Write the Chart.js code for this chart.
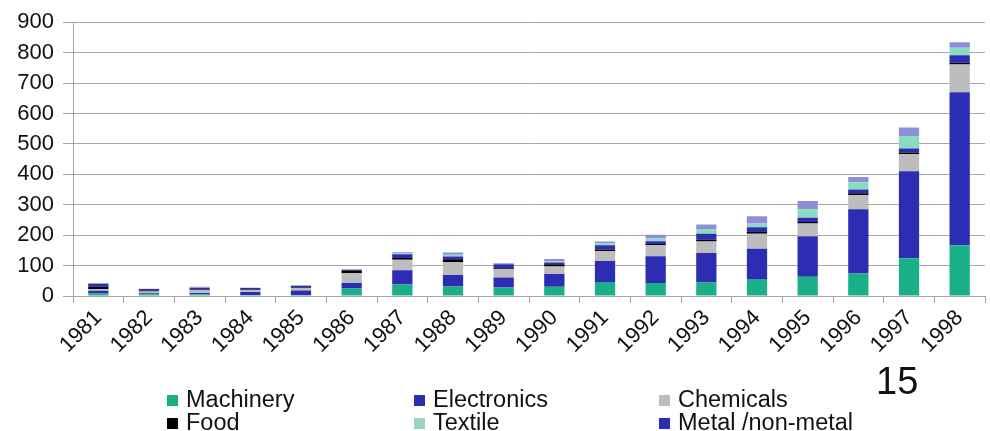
<!DOCTYPE html>
<html>
<head>
<meta charset="utf-8">
<script src="https://cdn.jsdelivr.net/npm/chart.js@4.4.1/dist/chart.umd.min.js"></script>
<style>
  html, body { margin: 0; padding: 0; background: #fff; }
  #wrap { width: 990px; height: 431px; position: relative; }
</style>
</head>
<body>
<div id="wrap"><canvas id="exportChart"></canvas></div>
<script>
const years = ["1981","1982","1983","1984","1985","1986","1987","1988","1989",
               "1990","1991","1992","1993","1994","1995","1996","1997","1998"];

const machinery   = [8, 6, 6, 3, 3, 25, 38, 31, 28, 30, 46, 43, 44, 56, 63, 74, 124, 167];
const electronics = [9, 3, 4, 10, 15, 18, 47, 38, 33, 42, 69, 88, 97, 99, 133, 211, 286, 503];
const chemicals   = [6, 6, 9, 7, 8, 32, 34, 43, 27, 25, 33, 36, 38, 50, 42, 47, 56, 91];
const food        = [7, 3, 2, 1, 2, 9, 6, 9, 3, 7, 5, 4, 6, 5, 5, 6, 6, 6];
const metal       = [10, 5, 6, 5, 5, 2, 12, 9, 13, 6, 14, 9, 20, 16, 14, 12, 13, 24];
const textile     = [1, 0, 1, 1, 1, 0, 3, 6, 1, 3, 6, 9, 15, 12, 28, 24, 41, 25];
const other       = [2, 1, 2, 1, 2, 2, 4, 7, 3, 9, 6, 12, 15, 24, 27, 17, 28, 18];

const yTicks = [0, 100, 200, 300, 400, 500, 600, 700, 800, 900];
const slideNumber = "15";

const series = [
  { label: "Machinery",         data: machinery,   color: "#1aaf88" },
  { label: "Electronics",       data: electronics, color: "#2d2db3" },
  { label: "Chemicals",         data: chemicals,   color: "#bdbdbd" },
  { label: "Food",              data: food,        color: "#000000" },
  { label: "Metal /non-metal",  data: metal,       color: "#2d2db3" },
  { label: "Textile",           data: textile,     color: "#88dcc0" },
  { label: "Other",             data: other,       color: "#8f8fd8" }
];

// legend is laid out as in the slide: 2 rows x 3 columns
const legendRows = [
  ["Machinery", "Electronics", "Chemicals"],
  ["Food", "Textile", "Metal /non-metal"]
];

const font = "'Liberation Sans', Arial, sans-serif";
const gridColor = "#a6a6a6";

const slideLegend = {
  id: "slideLegend",
  afterDraw(chart) {
    const ctx = chart.ctx;
    const colX = [167, 414, 659];
    const rowY = [400, 423];
    ctx.save();
    ctx.font = "23.5px " + font;
    ctx.textBaseline = "middle";
    ctx.textAlign = "left";
    legendRows.forEach((row, r) => {
      row.forEach((name, c) => {
        const s = series.find(d => d.label === name);
        ctx.fillStyle = name === "Textile" ? "#9ed3c0" : s.color;
        ctx.fillRect(colX[c], rowY[r] - 5, 11, 11);
        ctx.fillStyle = "#111";
        ctx.fillText(name, colX[c] + 19, rowY[r] + 1);
      });
    });
    ctx.font = "38px " + font;
    ctx.fillStyle = "#111";
    ctx.fillText(slideNumber, 876, 384);
    ctx.restore();
  }
};

const ctx = document.getElementById("exportChart").getContext("2d");

const myChart = new Chart(ctx, {
  type: "bar",
  data: {
    labels: years,
    datasets: series.map(s => ({
      label: s.label,
      data: s.data,
      backgroundColor: s.color,
      borderWidth: 0,
      barPercentage: 0.4,
      categoryPercentage: 1.0
    }))
  },
  options: {
    responsive: true,
    maintainAspectRatio: false,
    animation: false,
    layout: { padding: { top: 18, right: 5, bottom: 0, left: 0 } },
    plugins: {
      legend: { display: false },
      tooltip: { enabled: false }
    },
    scales: {
      x: {
        stacked: true,
        afterFit(scale) { scale.height = 135; },
        grid: {
          offset: true,
          drawOnChartArea: false,
          color: gridColor,
          tickLength: 7
        },
        border: { color: gridColor },
        ticks: {
          minRotation: 45,
          maxRotation: 45,
          padding: 2,
          color: "#111",
          font: { family: font, size: 22 }
        }
      },
      y: {
        stacked: true,
        min: 0,
        max: 900,
        afterFit(scale) { scale.width = 73; },
        afterBuildTicks(scale) { scale.ticks = yTicks.map(v => ({ value: v })); },
        grid: { color: gridColor, tickLength: 10 },
        border: { color: gridColor },
        ticks: {
          padding: 9,
          color: "#111",
          font: { family: font, size: 22 }
        }
      }
    }
  },
  plugins: [slideLegend]
});
</script>
</body>
</html>
